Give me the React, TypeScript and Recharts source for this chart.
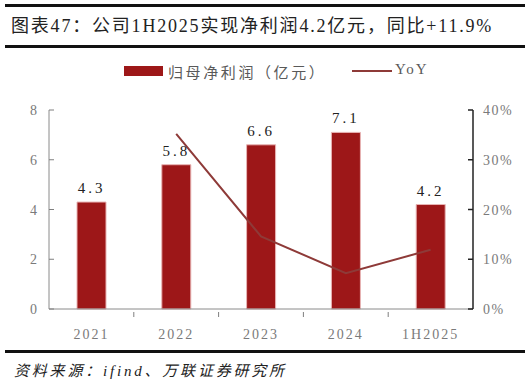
import React from "react";
import { ComposedChart, Bar, Line, XAxis, YAxis, LabelList } from "recharts";

const categories = ["2021", "2022", "2023", "2024", "1H2025"];
const profit = [4.3, 5.8, 6.6, 7.1, 4.2];
const yoy = [null, 35.2, 14.6, 7.2, 11.9];
const leftTicks = [0, 2, 4, 6, 8];
const rightTicks = [0, 10, 20, 30, 40];

const title = "图表47：公司1H2025实现净利润4.2亿元，同比+11.9%";
const source = "资料来源：ifind、万联证券研究所";
const barName = "归母净利润（亿元）";
const lineName = "YoY";

const data = categories.map((c, i) => ({ name: c, profit: profit[i], yoy: yoy[i] }));

const W = 530;
const H = 387;
const LEFT_W = 49;
const RIGHT_W = 57;
const BAND_HALF = (W - LEFT_W - RIGHT_W) / categories.length / 2;

const FONT = '"Liberation Serif", "DejaVu Serif", "Noto Sans CJK SC", serif';
const BAR_COLOR = "#9D1718";
const LINE_COLOR = "#8E3A38";
const TICK_COLOR = "#7a7a7a";

const LeftTick = (props: any) => {
  const { x, y, payload } = props;
  return (
    <g>
      <line x1={x} x2={x + 5} y1={y} y2={y} stroke="#7f7f7f" strokeWidth={1} />
      <text x={x - 12} y={y} dy={5} textAnchor="end" fill={TICK_COLOR} fontSize={14} fontFamily={FONT}>
        {payload.value}
      </text>
    </g>
  );
};

const RightTick = (props: any) => {
  const { x, y, payload } = props;
  return (
    <g>
      <line x1={x} x2={x - 5} y1={y} y2={y} stroke="#222" strokeWidth={1.5} />
      <text x={x + 10} y={y} dy={5} textAnchor="start" fill={TICK_COLOR} fontSize={14} fontFamily={FONT} letterSpacing={1.5}>
        {payload.value + "%"}
      </text>
    </g>
  );
};

const XTick = (props: any) => {
  const { x, y, payload, index } = props;
  return (
    <g>
      {index < categories.length - 1 && (
        <line x1={x + BAND_HALF} x2={x + BAND_HALF} y1={y} y2={y - 5} stroke="#7f7f7f" strokeWidth={1} />
      )}
      <text x={x} y={y} dy={22} textAnchor="middle" fill={TICK_COLOR} fontSize={14} fontFamily={FONT} letterSpacing={2}>
        {payload.value}
      </text>
    </g>
  );
};

export default function App() {
  return (
    <div style={{ position: "absolute", left: 0, top: 0, width: W, height: H, background: "#fff", fontFamily: FONT }}>
      <div style={{ position: "absolute", left: 5, right: 5, top: 4, height: 3, background: "#111" }} />
      <div style={{ position: "absolute", left: 11, top: 11, fontSize: 18, color: "#222", whiteSpace: "nowrap", letterSpacing: 1.8 }}>{title}</div>
      <div style={{ position: "absolute", left: 5, right: 5, top: 45, height: 3, background: "#111" }} />

      <div style={{ position: "absolute", left: 0, top: 0 }}>
        <ComposedChart width={W} height={H} data={data} margin={{ top: 110, right: 0, bottom: 48, left: 0 }}>
          <XAxis
            dataKey="name"
            xAxisId="x"
            tickLine={false}
            tick={<XTick />}
            axisLine={{ stroke: "#8a8a8a" }}
            height={30}
            interval={0}
          />
          <YAxis
            yAxisId="left"
            orientation="left"
            domain={[0, 8]}
            ticks={leftTicks}
            width={LEFT_W}
            tickLine={false}
            tickSize={0}
            tickMargin={0}
            axisLine={{ stroke: "#8a8a8a" }}
            tick={<LeftTick />}
            interval={0}
          />
          <YAxis
            yAxisId="right"
            orientation="right"
            domain={[0, 40]}
            ticks={rightTicks}
            width={RIGHT_W}
            tickLine={false}
            tickSize={0}
            tickMargin={0}
            axisLine={{ stroke: "#222", strokeWidth: 1.5 }}
            tick={<RightTick />}
            interval={0}
          />
          <Bar dataKey="profit" xAxisId="x" yAxisId="left" fill={BAR_COLOR} stroke="#e8b4b4" strokeWidth={1} barSize={29} isAnimationActive={false}>
            <LabelList
              dataKey="profit"
              position="top"
              offset={9}
              fill="#222"
              fontSize={15}
              fontFamily={FONT}
              letterSpacing={3}
            />
          </Bar>
          <Line
            dataKey="yoy"
            xAxisId="x"
            yAxisId="right"
            stroke={LINE_COLOR}
            strokeWidth={2}
            dot={false}
            activeDot={false}
            connectNulls={false}
            isAnimationActive={false}
          />
        </ComposedChart>
      </div>

      <div style={{ position: "absolute", left: 124, top: 66, width: 39, height: 10, background: BAR_COLOR }} />
      <div style={{ position: "absolute", left: 168, top: 61, fontSize: 15, color: "#595959", whiteSpace: "nowrap", letterSpacing: 2.6 }}>{barName}</div>
      <div style={{ position: "absolute", left: 352, top: 70, width: 40, height: 2, background: LINE_COLOR }} />
      <div style={{ position: "absolute", left: 395, top: 61, fontSize: 15, color: "#595959", whiteSpace: "nowrap", letterSpacing: 2 }}>{lineName}</div>

      <div style={{ position: "absolute", left: 5, right: 5, top: 350, height: 3, background: "#111" }} />
      <div style={{ position: "absolute", left: 14, top: 359, fontSize: 15, color: "#222", fontStyle: "italic", whiteSpace: "nowrap", letterSpacing: 2.8 }}>{source}</div>
    </div>
  );
}
